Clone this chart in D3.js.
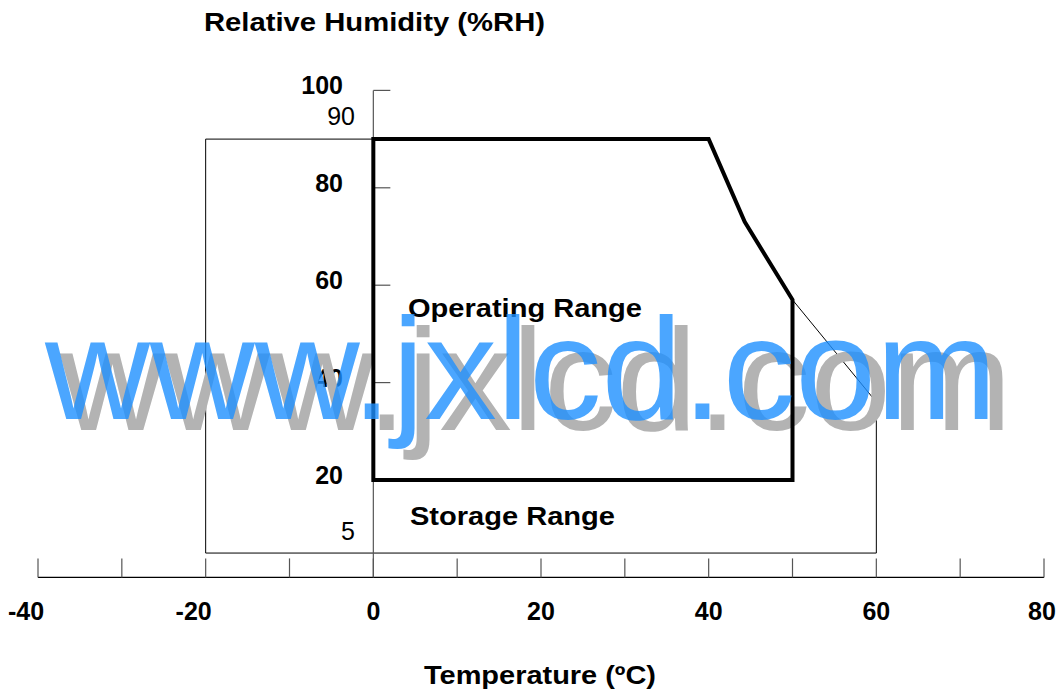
<!DOCTYPE html>
<html>
<head>
<meta charset="utf-8">
<script src="https://cdn.jsdelivr.net/npm/d3@7"></script>
<style>
  body { margin: 0; background: #fff; }
  svg { display: block; font-family: "Liberation Sans", Arial, sans-serif; }
  .bold { font-weight: bold; }
</style>
</head>
<body>
<div id="chart"></div>
<script>
// temperature (ºC) / humidity (%RH) data
var xTicks = [-40, -30, -20, -10, 0, 10, 20, 30, 40, 50, 60, 70, 80];
var xLabels = [-40, -20, 0, 20, 40, 60, 80];
var yTicks = [20, 40, 60, 80, 100];
var yBoldLabels = [20, 40, 60, 80, 100];
var yThinLabels = [5, 90];

var operating = [[0, 20], [0, 90], [40, 90], [44.3, 73], [50, 57], [50, 20]];
var storage = [[-20, 5], [-20, 90], [40, 90], [44.3, 73], [50, 57], [60, 36], [60, 5]];

var width = 1061, height = 689;

var x = d3.scaleLinear().domain([-40, 80]).range([38, 1044]);
var y = d3.scaleLinear().domain([0, 100]).range([577.4, 90.4]);

var svg = d3.select("#chart").append("svg")
  .attr("width", width)
  .attr("height", height);

var line = d3.line().x(d => x(d[0])).y(d => y(d[1])).curve(d3.curveLinearClosed);

// text helper, widths measured on the reference
function label(txt, cx, by, w) {
  return svg.append("text").attr("class", "bold")
    .attr("x", cx - w / 2).attr("y", by)
    .attr("font-size", 25)
    .attr("textLength", w)
    .attr("lengthAdjust", "spacingAndGlyphs")
    .text(txt);
}

// storage range (thin)
svg.append("path")
  .attr("d", line(storage))
  .attr("fill", "none")
  .attr("stroke", "#000")
  .attr("stroke-width", 1);

// y axis line + ticks
svg.append("line")
  .attr("x1", x(0)).attr("x2", x(0))
  .attr("y1", y(100)).attr("y2", y(0))
  .attr("stroke", "#555").attr("stroke-width", 1.2);

svg.selectAll(".ytick").data(yTicks)
  .join("line")
  .attr("class", "ytick")
  .attr("x1", x(0)).attr("x2", x(0) + 17)
  .attr("y1", d => y(d)).attr("y2", d => y(d))
  .attr("stroke", "#555").attr("stroke-width", 1.2);

svg.selectAll(".ylab").data(yBoldLabels)
  .join("text")
  .attr("class", "ylab bold")
  .attr("x", 343)
  .attr("y", d => y(d) + 4)
  .attr("text-anchor", "end")
  .attr("font-size", 25)
  .text(d => d);

svg.selectAll(".ylab2").data(yThinLabels)
  .join("text")
  .attr("class", "ylab2")
  .attr("x", 355)
  .attr("y", d => d == 90 ? y(100) + 35 : y(d) - 13)
  .attr("text-anchor", "end")
  .attr("font-size", 25)
  .text(d => d);

// x axis
svg.append("line")
  .attr("x1", x(-40)).attr("x2", x(80))
  .attr("y1", y(0)).attr("y2", y(0))
  .attr("stroke", "#000").attr("stroke-width", 1.2);

svg.selectAll(".xtick").data(xTicks)
  .join("line")
  .attr("class", "xtick")
  .attr("x1", d => x(d)).attr("x2", d => x(d))
  .attr("y1", y(0)).attr("y2", y(0) - 19)
  .attr("stroke", "#555").attr("stroke-width", 1.2);

svg.selectAll(".xlab").data(xLabels)
  .join("text")
  .attr("class", "xlab bold")
  .attr("x", d => x(d) + (d < 0 ? -12 : (d == 80 ? -2 : 0)))
  .attr("y", 620)
  .attr("text-anchor", "middle")
  .attr("font-size", 25)
  .text(d => d);

// titles
label("Relative Humidity (%RH)", 374.5, 31, 341);
label("Temperature (ºC)", 540, 684, 232);

// watermark (gray part, below the lines)
svg.append("text")
  .attr("x", 60).attr("y", 430)
  .attr("font-size", 144)
  .attr("textLength", 952)
  .attr("lengthAdjust", "spacingAndGlyphs")
  .attr("fill", "#b3b3b3")
  .text("www.jxlcd.com");

// operating range (thick)
svg.append("path")
  .attr("d", line(operating))
  .attr("fill", "none")
  .attr("stroke", "#000")
  .attr("stroke-width", 4)
  .attr("stroke-linejoin", "miter");

label("Operating Range", 525, 317, 234);
label("Storage Range", 512.5, 525, 205);

// watermark (blue part, on top)
svg.append("text")
  .attr("x", 45).attr("y", 419)
  .attr("font-size", 144)
  .attr("textLength", 952)
  .attr("lengthAdjust", "spacingAndGlyphs")
  .attr("fill", "#1e90ff")
  .attr("fill-opacity", 0.8)
  .text("www.jxlcd.com");
</script>
</body>
</html>
